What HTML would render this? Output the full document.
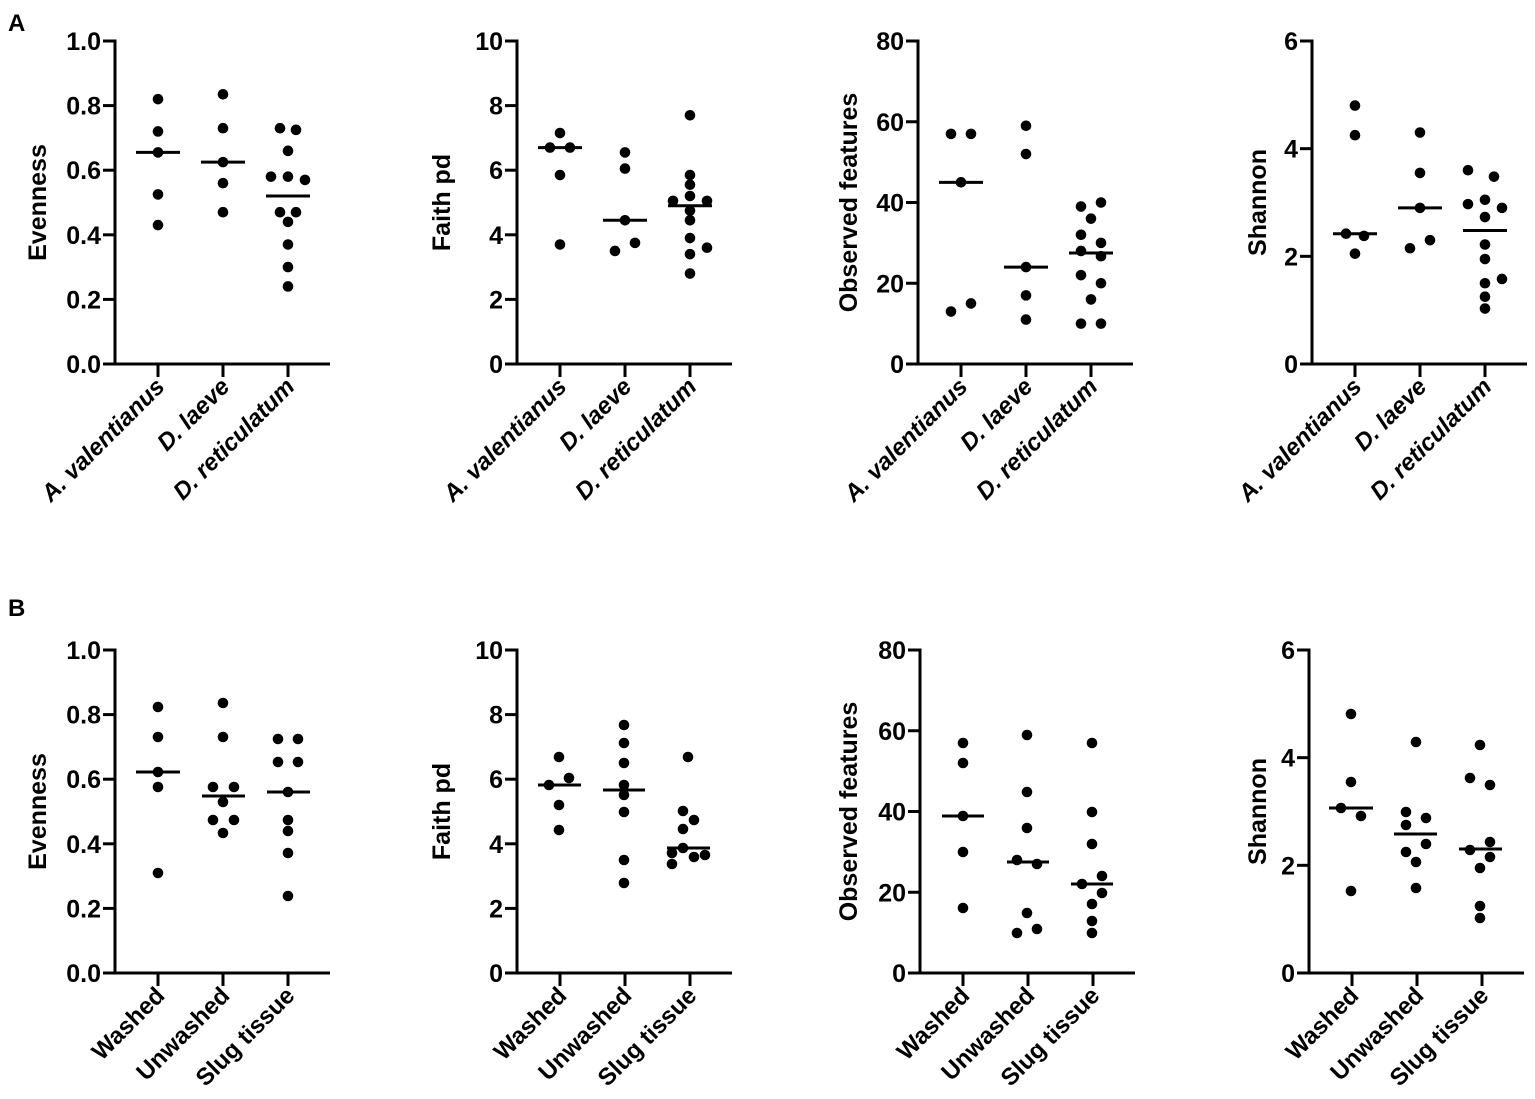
<!DOCTYPE html>
<html><head><meta charset="utf-8"><style>
html,body{margin:0;padding:0;background:#fff;}
svg{display:block;}
text{font-family:"Liberation Sans",Arial,sans-serif;font-weight:bold;fill:#000;}
</style></head><body>
<svg id="s" width="1535" height="1099" viewBox="0 0 1535 1099" xmlns="http://www.w3.org/2000/svg">
<text x="8" y="31" font-size="24">A</text>
<text x="8" y="616" font-size="24">B</text>
</svg>
<script>
var s=document.getElementById('s'),NS='http://www.w3.org/2000/svg';
function el(t,a,txt){var e=document.createElementNS(NS,t);for(var k in a)e.setAttribute(k,a[k]);if(txt!=null)e.textContent=txt;s.appendChild(e);return e;}
function axes(ax,top,bot,ticks,ylab,labx,cats,italic){
  var right=ax+215;
  el('line',{x1:ax,y1:top-1.5,x2:ax,y2:bot+1.5,stroke:'#000','stroke-width':3});
  el('line',{x1:ax-1.5,y1:bot,x2:right,y2:bot,stroke:'#000','stroke-width':3});
  for(var i=0;i<ticks.length;i++){var y=bot-(bot-top)*i/(ticks.length-1);
    el('line',{x1:ax-12,y1:y,x2:ax,y2:y,stroke:'#000','stroke-width':3});
    el('text',{x:ax-14,y:y+9,'font-size':25,'text-anchor':'end'},ticks[i]);}
  var cy=(top+bot)/2;
  el('text',{x:labx,y:cy,'font-size':25,'text-anchor':'middle',transform:'rotate(-90 '+labx+' '+cy+')'},ylab);
  for(var j=0;j<3;j++){var cx=ax+43+65*j;
    el('line',{x1:cx,y1:bot,x2:cx,y2:bot+13,stroke:'#000','stroke-width':3});
    var tx=cx+8,ty=bot+24;
    var t=el('text',{x:tx,y:ty,'font-size':24,'text-anchor':'end',transform:'rotate(-45 '+tx+' '+ty+')'},cats[j]);
    if(italic)t.setAttribute('font-style','italic');}
}
function dot(x,y){el('circle',{cx:x,cy:y,r:5.3,fill:'#000'});}
function med(x1,x2,y){el('line',{x1:x1,y1:y,x2:x2,y2:y,stroke:'#000','stroke-width':3});}
var catsA=['A. valentianus','D. laeve','D. reticulatum'],catsB=['Washed','Unwashed','Slug tissue'];
var TA=41,BA=364,TB=650,BB=973;
axes(115,TA,BA,['0.0','0.2','0.4','0.6','0.8','1.0'],'Evenness',46,catsA,true);
axes(517,TA,BA,['0','2','4','6','8','10'],'Faith pd',450,catsA,true);
axes(918,TA,BA,['0','20','40','60','80'],'Observed features',857,catsA,true);
axes(1312,TA,BA,['0','2','4','6'],'Shannon',1266,catsA,true);
axes(115,TB,BB,['0.0','0.2','0.4','0.6','0.8','1.0'],'Evenness',46,catsB,false);
axes(517,TB,BB,['0','2','4','6','8','10'],'Faith pd',450,catsB,false);
axes(920,TB,BB,['0','20','40','60','80'],'Observed features',857,catsB,false);
axes(1309,TB,BB,['0','2','4','6'],'Shannon',1266,catsB,false);
function rowA(ax,max,groups){
  var f=function(v){return BA-(BA-TA)*v/max;};
  groups.forEach(function(g,i){var cx=ax+43+65*i;
    g[0].forEach(function(p){dot(cx+p[0],f(p[1]));});
    med(cx-22,cx+22,f(g[1]));});
}
rowA(115,1,[
 [[[0,.82],[0,.72],[0,.655],[0,.525],[0,.43]],.655],
 [[[0,.835],[0,.73],[0,.625],[0,.56],[0,.47]],.625],
 [[[-8,.73],[8,.725],[0,.66],[-17,.58],[0,.58],[17,.57],[-8,.47],[8,.47],[0,.44],[0,.37],[0,.30],[0,.24]],.52]]);
rowA(517,10,[
 [[[0,7.15],[-10,6.7],[10,6.7],[0,5.85],[0,3.7]],6.7],
 [[[0,6.55],[0,6.05],[0,4.45],[10,3.75],[-10,3.5]],4.45],
 [[[0,7.7],[0,5.85],[0,5.55],[0,5.2],[-17,5.05],[17,5.05],[0,4.75],[0,4.45],[0,3.9],[0,3.4],[17,3.6],[0,2.8]],4.9]]);
rowA(918,80,[
 [[[-10,57],[10,57],[0,45],[-10,13],[10,15]],45],
 [[[0,59],[0,52],[0,24],[0,17],[0,11]],24],
 [[[-10,39],[10,40],[0,36],[-10,32],[10,30],[-10,28],[10,26.7],[-10,22],[10,20],[0,16],[-10,10],[10,10]],27.5]]);
rowA(1312,6,[
 [[[0,4.8],[0,4.25],[-9,2.42],[9,2.38],[0,2.05]],2.42],
 [[[0,4.3],[0,3.55],[0,2.9],[10,2.3],[-10,2.15]],2.9],
 [[[-17,3.6],[9,3.48],[-17,2.97],[0,3.05],[17,2.9],[0,2.73],[0,2.22],[0,1.95],[0,1.5],[17,1.58],[0,1.25],[0,1.03]],2.48]]);
var B=[
 [[158,707],[158,737],[158,772],[158,787],[158,873],[223,703],[223,737],[213,787],[234,787],[223,802],[213,820],[234,820],[223,833],[278,739],[298,739],[278,762],[298,762],[288,792],[288,820],[288,831],[288,853],[288,896]],
 [[559,757],[569,778],[549,785],[559,805],[559,830],[624,725],[624,743],[624,763],[624,785],[624,795],[624,812],[624,860],[624,883],[688,757],[683,811],[694,820],[683,829],[683,848],[672,853],[694,857],[705,855],[672,864]],
 [[963,743],[963,763],[963,816],[963,852],[963,908],[1027,735],[1027,792],[1027,828],[1017,860],[1037,864],[1027,913],[1017,933],[1037,929],[1092,743],[1092,812],[1092,844],[1102,876],[1082,884],[1102,893],[1092,904],[1092,921],[1092,933]],
 [[1351,714],[1351,782],[1341,808],[1361,816],[1351,891],[1416,742],[1406,812],[1426,818],[1406,825],[1426,844],[1406,852],[1416,862],[1416,888],[1480,745],[1470,778],[1490,785],[1490,842],[1470,850],[1490,857],[1480,868],[1480,906],[1480,918]]];
B.forEach(function(p){p.forEach(function(q){dot(q[0],q[1]);});});
var M=[[136,180,772],[202,245,796],[267,310,792],[538,581,785],[603,645,790],[667,710,848],[942,984,816],[1007,1049,862],[1071,1113,884],[1329,1373,808],[1394,1437,834],[1459,1502,849]];
M.forEach(function(m){med(m[0],m[1],m[2]);});
</script>
</body></html>
